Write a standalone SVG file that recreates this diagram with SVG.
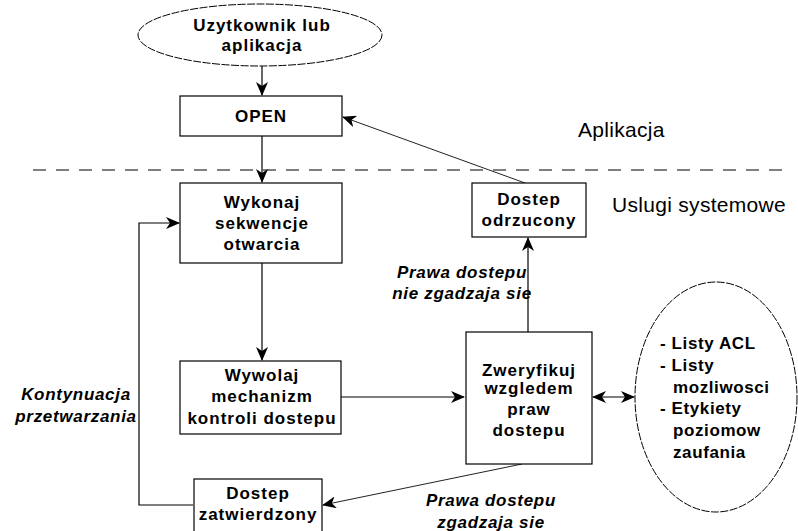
<svg xmlns="http://www.w3.org/2000/svg" width="798" height="531" viewBox="0 0 798 531">
<style>
.box{fill:#fff;stroke:#000;stroke-width:1.2}
.ell{fill:#fff;stroke:#000;stroke-width:1;stroke-dasharray:8 1.5}
.t{font-family:"Liberation Sans",Arial,sans-serif;font-size:17px;font-weight:bold;letter-spacing:1px;text-anchor:middle;fill:#000}
.tl{font-family:"Liberation Sans",Arial,sans-serif;font-size:17px;font-weight:bold;letter-spacing:0.6px;fill:#000}
.it{font-family:"Liberation Sans",Arial,sans-serif;font-size:17px;font-weight:bold;font-style:italic;letter-spacing:0.7px;text-anchor:middle;fill:#000}
.big{font-family:"Liberation Sans",Arial,sans-serif;font-size:21px;letter-spacing:0.3px;fill:#000}
.ln{fill:none;stroke:#000;stroke-width:1.2}
.thin{fill:none;stroke:#222;stroke-width:1}
</style>
<defs>
<marker id="ah" viewBox="0 0 14 12" refX="13" refY="6" markerWidth="14" markerHeight="12" markerUnits="userSpaceOnUse" orient="auto-start-reverse">
<path d="M0,0 L14,6 L0,12 L4,6 Z" fill="#000"/>
</marker>
</defs>
<line x1="33" y1="170" x2="785" y2="170" stroke="#000" stroke-width="1.2" stroke-dasharray="13 10"/>
<text class="big" x="578" y="137">Aplikacja</text>
<text class="big" x="612" y="212">Uslugi systemowe</text>
<g id="connectors">
<line class="ln" x1="262" y1="66" x2="262" y2="95" marker-end="url(#ah)"/>
<line class="ln" x1="262" y1="136" x2="262" y2="182" marker-end="url(#ah)"/>
<line class="ln" x1="262" y1="263" x2="262" y2="360" marker-end="url(#ah)"/>
<line class="ln" x1="341" y1="397" x2="464" y2="397" marker-end="url(#ah)"/>
<line class="ln" x1="593" y1="397" x2="634" y2="397" marker-start="url(#ah)" marker-end="url(#ah)"/>
<line class="ln" x1="528" y1="332" x2="528" y2="238" marker-end="url(#ah)"/>
<line class="thin" x1="525" y1="183" x2="343" y2="117" marker-end="url(#ah)"/>
<line class="thin" x1="522" y1="464" x2="323" y2="505" marker-end="url(#ah)"/>
<polyline class="ln" points="193,505 139,505 139,223 179,223" marker-end="url(#ah)"/>
</g>
<g id="user">
<ellipse class="ell" cx="260" cy="35" rx="122" ry="31"/>
<text class="t" x="262" y="31">Uzytkownik lub</text>
<text class="t" x="262" y="51">aplikacja</text>
</g>
<g id="open">
<rect class="box" x="180" y="96" width="162" height="40"/>
<text class="t" x="261" y="122">OPEN</text>
</g>
<g id="wykonaj">
<rect class="box" x="180" y="183" width="162" height="80"/>
<text class="t" x="262" y="208">Wykonaj</text>
<text class="t" x="262" y="229">sekwencje</text>
<text class="t" x="262" y="250">otwarcia</text>
</g>
<g id="wywolaj">
<rect class="box" x="180" y="361" width="161" height="73"/>
<text class="t" x="262" y="381">Wywolaj</text>
<text class="t" x="262" y="402">mechanizm</text>
<text class="t" x="262" y="424">kontroli dostepu</text>
</g>
<g id="zweryfikuj">
<rect class="box" x="466" y="332" width="126" height="132"/>
<text class="t" x="529" y="376">Zweryfikuj</text>
<text class="t" x="529" y="394">wzgledem</text>
<text class="t" x="529" y="415">praw</text>
<text class="t" x="529" y="436">dostepu</text>
</g>
<g id="odrzucony">
<rect class="box" x="472" y="183" width="114" height="54"/>
<text class="t" x="529" y="205">Dostep</text>
<text class="t" x="529" y="226">odrzucony</text>
</g>
<g id="zatwierdzony">
<rect class="box" x="194" y="479" width="128" height="60"/>
<text class="t" x="258" y="499">Dostep</text>
<text class="t" x="258" y="520">zatwierdzony</text>
</g>
<g id="listy">
<ellipse class="ell" cx="716" cy="397" rx="81" ry="115"/>
<text class="tl" x="660" y="349">- Listy ACL</text>
<text class="tl" x="660" y="371">- Listy</text>
<text class="tl" x="673" y="393">mozliwosci</text>
<text class="tl" x="660" y="414">- Etykiety</text>
<text class="tl" x="673" y="436">poziomow</text>
<text class="tl" x="673" y="458">zaufania</text>
</g>
<g id="labels">
<text class="it" x="462" y="278">Prawa dostepu</text>
<text class="it" x="462" y="299">nie zgadzaja sie</text>
<text class="it" x="491" y="506">Prawa dostepu</text>
<text class="it" x="491" y="528">zgadzaja sie</text>
<text class="it" x="76" y="400">Kontynuacja</text>
<text class="it" x="76" y="422">przetwarzania</text>
</g>
</svg>
